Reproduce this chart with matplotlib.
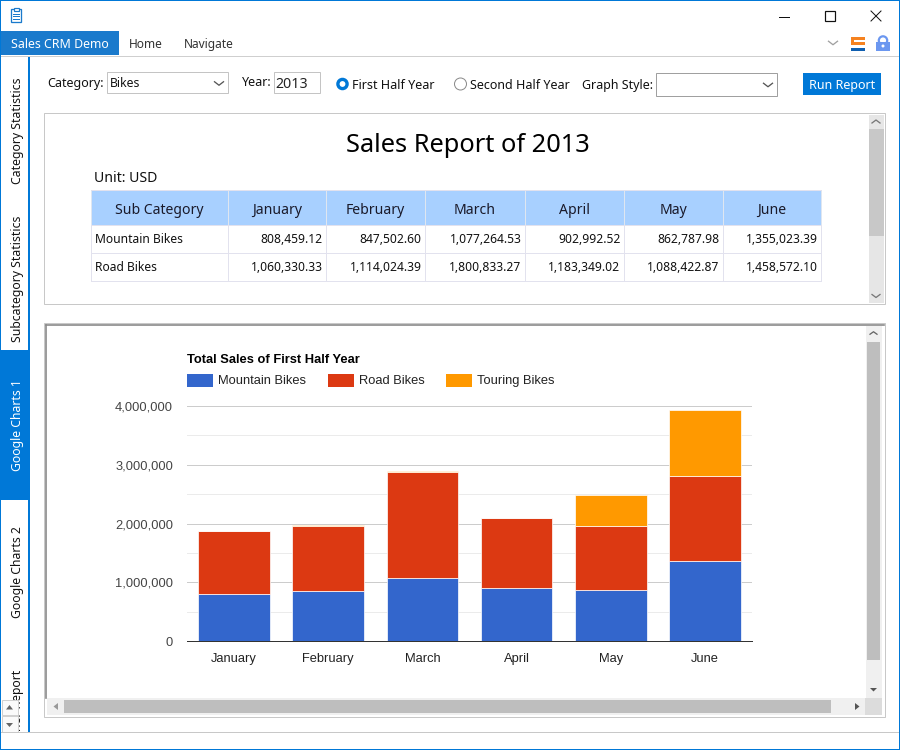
#!/usr/bin/env python3
"""Sales CRM demo window: report table and stacked column chart, first half of 2013."""
import matplotlib
matplotlib.use("Agg")
import matplotlib.pyplot as plt
from matplotlib.patches import Rectangle, Circle, Polygon
from matplotlib.ticker import FuncFormatter, MultipleLocator

MONTHS = ["January", "February", "March", "April", "May", "June"]
SERIES = ["Mountain Bikes", "Road Bikes", "Touring Bikes"]
COLORS = ["#3366CC", "#DC3912", "#FF9900"]
mountain = [808459.12, 847502.60, 1077264.53, 902992.52, 862787.98, 1355023.39]
road = [1060330.33, 1114024.39, 1800833.27, 1183349.02, 1088422.87, 1458572.10]
touring = [5000, 8000, 14000, 10000, 534000, 1120000]
TABS = ["Category Statistics", "Subcategory Statistics", "Google Charts 1", "Google Charts 2"]

UI = "Noto Sans"
ARIAL = "Liberation Sans"
BLUE = "#0078D7"
PX = 0.72  # one pixel as a line width at dpi 100

fig = plt.figure(figsize=(9, 7.5), dpi=100, facecolor="white")
bg = fig.add_axes([0, 0, 1, 1])
bg.set_xlim(0, 900); bg.set_ylim(750, 0); bg.axis("off")


def rect(x0, y0, x1, y1, fc="none", ec="none", lw=PX, z=1):
    p = Rectangle((x0, y0), x1 - x0, y1 - y0, facecolor=fc, edgecolor=ec, linewidth=lw, zorder=z)
    bg.add_patch(p)
    return p


def txt(x, y, s, size=9.0, color="#111111", ha="left", family=UI, **kw):
    # va=center in Noto sits high, nudge it down in proportion to the size
    off = size * 0.13 if family == UI and "rotation" not in kw else 0
    return bg.text(x, y + off, s, fontsize=size, color=color, ha=ha, va="center", family=family, **kw)


def chevron(x, y, w=5, h=3.5, color="#555555", lw=PX * 1.3, up=False):
    d = -h if up else h
    bg.plot([x - w, x, x + w], [y - d / 2, y + d / 2, y - d / 2], color=color, lw=lw, zorder=5)


def tri(pts, color="#555555"):
    bg.add_patch(Polygon(pts, closed=True, facecolor=color, edgecolor="none", zorder=7))


# window frame and title bar
rect(0, 0, 900, 1, fc=BLUE, z=8)
rect(0, 749, 900, 750, fc=BLUE, z=8)
rect(0, 0, 1, 750, fc=BLUE, z=8)
rect(899, 0, 900, 750, fc=BLUE, z=8)
rect(11, 9, 21, 22, ec="#1a7acc", lw=PX * 1.3, z=3)
rect(13.5, 7.5, 18.5, 10.5, fc="white", ec="#1a7acc", lw=PX * 1.2, z=4)
for yy in (13.5, 16, 18.5):
    bg.plot([13, 19], [yy, yy], color="#1a7acc", lw=PX, zorder=4)
bg.plot([779, 789], [16.5, 16.5], color="#111111", lw=PX)
rect(825, 11, 835, 20.5, ec="#111111", lw=PX * 1.2)
bg.plot([871, 881], [11, 21], color="#111111", lw=PX)
bg.plot([871, 881], [21, 11], color="#111111", lw=PX)

# menu strip
rect(1, 31, 119, 55, fc="#1a7acc")
txt(11, 43, "Sales CRM Demo", color="white", size=8.9)
txt(129, 43, "Home", color="#333333", size=8.6)
txt(184, 43, "Navigate", color="#333333", size=8.6)
rect(0, 55.5, 899, 57, fc="#cfcfcf")
chevron(833, 43, w=4.5, h=3.5, color="#a0a0a0")
rect(851, 37, 865, 40, fc="#F58220")
rect(851, 37, 854, 44, fc="#F58220")
rect(851, 41.5, 865, 45, fc="#F58220")
rect(851, 47.5, 865, 51, fc="#0F5FB0")
rect(876, 42, 890, 51, fc="#6B97F0", z=2)
bg.add_patch(Circle((883, 40.5), 4.2, facecolor="none", edgecolor="#6B97F0", linewidth=1.6, zorder=1))
bg.add_patch(Circle((883, 46), 1.5, facecolor="white", edgecolor="none", zorder=3))

# left tab strip
rect(28, 57, 30, 733, fc=BLUE, z=2)
rect(1, 350, 30, 500, fc=BLUE, z=1)
for s, yc, col in zip(TABS, [131, 279, 425, 572], ["#111111", "#111111", "white", "#111111"]):
    txt(18, yc, s, color=col, ha="center", rotation=90, rotation_mode="anchor", size=8.8)
clipped = bg.text(18, 670, "Other Report", fontsize=8.8, color="#111111", family=UI,
                  rotation=90, ha="right", va="center", rotation_mode="anchor")
clipped.set_clip_path(Rectangle((0, 660), 28, 72, transform=bg.transData))
clipped.set_clip_on(True)
rect(1.5, 699.5, 17.5, 715, fc="#fafafa", ec="#d0d0d0", z=6)
rect(1.5, 716, 17.5, 732, fc="#fafafa", ec="#d0d0d0", z=6)
tri([(6, 709.5), (13, 709.5), (9.5, 705)], "#666666")
tri([(6, 723), (13, 723), (9.5, 727)], "#666666")
rect(0, 732, 899, 733.2, fc="#c8c8c8", z=7)

# filter row
txt(47, 82, "Category:")
rect(107, 72, 228, 93, ec="#c4c4c4", lw=PX)
txt(110, 82, "Bikes", size=8.8)
chevron(219, 83.5, w=4.5, h=3.5)
txt(242, 81.5, "Year:")
rect(274, 72, 320, 93, ec="#c4c4c4", lw=PX)
txt(275.5, 83, "2013", size=10.2, color="#222222")
bg.add_patch(Circle((342.5, 84), 4.6, facecolor="white", edgecolor=BLUE, linewidth=2.4))
txt(352, 84.5, "First Half Year")
bg.add_patch(Circle((460.5, 84), 6, facecolor="white", edgecolor="#8a8a8a", linewidth=PX))
txt(470, 84.5, "Second Half Year")
txt(582, 84.5, "Graph Style:")
rect(656, 73, 777, 96, ec="#a0a0a0", lw=PX)
chevron(768, 85, w=4.5, h=3.5)
rect(803, 73, 881, 95, fc=BLUE)
txt(842.5, 84, "Run Report", color="white", ha="center")

# report panel
rect(44, 113, 885, 304, ec="#c8c8c8", lw=PX)
txt(468, 143.5, "Sales Report of 2013", size=18.3, color="black", ha="center")
txt(94, 177.5, "Unit: USD", size=10.1, color="#111111")
col_edges = [91, 228, 326, 425, 525, 624, 723, 821]
row_edges = [190, 225, 253, 281]
rect(col_edges[0], row_edges[0], col_edges[-1], row_edges[1], fc="#A8D0FF")
for x in col_edges:
    bg.plot([x, x], [row_edges[0], row_edges[1]], color="#dfe6f0", lw=PX, zorder=2)
    bg.plot([x, x], [row_edges[1], row_edges[3]], color="#e2e2ee", lw=PX, zorder=2)
for y in row_edges:
    bg.plot([col_edges[0], col_edges[-1]], [y, y], color="#e2e2ee", lw=PX, zorder=2)
for i, s in enumerate(["Sub Category"] + MONTHS):
    txt((col_edges[i] + col_edges[i + 1]) / 2, 209, s, size=10.1, color="#1a1a2a", ha="center")
for r, (name, vals) in enumerate(zip(SERIES[:2], [mountain, road])):
    yc = 238.5 + 28 * r
    txt(95, yc, name, size=8.7)
    for i, v in enumerate(vals):
        txt(col_edges[i + 2] - 3.5, yc, f"{v:,.2f}", size=8.7, ha="right")
rect(869, 115, 883.5, 303, fc="#e6e6e6")
rect(869, 129, 883.5, 236, fc="#c8c8c8")
chevron(876, 121.5, w=4, h=3, color="#777777", up=True)
chevron(876, 296, w=4, h=3, color="#777777")

# chart panel
rect(44, 323, 885, 717, ec="#c8c8c8", lw=PX)
bg.plot([46, 46], [325, 698], color="#8a8a8a", lw=1.2)
bg.plot([46, 884], [325, 325], color="#8a8a8a", lw=1.2)
rect(866, 326, 882, 698, fc="#f0f0f0")
rect(867, 342, 880, 660, fc="#bebebe")
chevron(873.5, 333, w=3.5, h=2.5, color="#666666", up=True)
tri([(870, 688), (877, 688), (873.5, 691.5)], "#555555")
rect(47, 698, 866, 715, fc="#f0f0f0")
rect(64, 700, 831, 713, fc="#bebebe")
tri([(58, 703), (58, 710), (53.5, 706.5)], "#999999")
tri([(855, 703), (855, 710), (859.5, 706.5)], "#555555")
rect(865, 698, 882, 715, fc="#dcdcdc")

txt(187, 360, "Total Sales of First Half Year", size=9.3, color="#000000", family=ARIAL, weight="bold")
for s, c, x0 in zip(SERIES, COLORS, [187, 328, 446]):
    rect(x0, 374, x0 + 26, 387, fc=c)
    txt(x0 + 31, 381, s, size=9.3, color="#222222", family=ARIAL)

ax = fig.add_axes([187 / 900, (750 - 641) / 750, 565 / 900, 235 / 750])
ax.patch.set_alpha(0)
x = list(range(len(MONTHS)))
bottom = [0.0] * len(MONTHS)
for vals, c in zip([mountain, road, touring], COLORS):
    ax.bar(x, vals, width=0.76, bottom=bottom, color=c, edgecolor="white", linewidth=0.5, zorder=3)
    bottom = [b + v for b, v in zip(bottom, vals)]
ax.set_xlim(-0.5, 5.5)
ax.set_ylim(0, 4000000)
ax.yaxis.set_major_locator(MultipleLocator(1000000))
ax.yaxis.set_minor_locator(MultipleLocator(500000))
ax.yaxis.set_major_formatter(FuncFormatter(lambda v, _: f"{int(v):,}"))
ax.grid(axis="y", which="major", color="#cccccc", lw=PX, zorder=0)
ax.grid(axis="y", which="minor", color="#ebebeb", lw=PX, zorder=0)
ax.set_axisbelow(True)
for side in ("top", "left", "right"):
    ax.spines[side].set_visible(False)
ax.spines["bottom"].set_color("#333333")
ax.spines["bottom"].set_linewidth(PX)
ax.spines["bottom"].set_zorder(5)
ax.tick_params(axis="both", which="both", length=0)
ax.tick_params(axis="y", pad=10, labelsize=9.3, labelcolor="#444444")
ax.tick_params(axis="x", pad=8.5, labelsize=9.3, labelcolor="#222222")
ax.set_xticks(x)
ax.set_xticklabels(MONTHS)
for lab in ax.get_xticklabels() + ax.get_yticklabels():
    lab.set_family(ARIAL)

fig.savefig("out.png", dpi=100, facecolor="white")
